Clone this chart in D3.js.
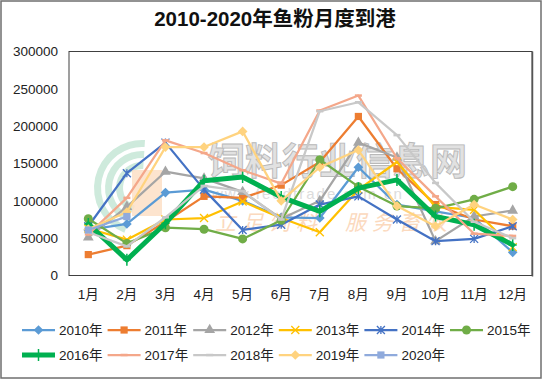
<!DOCTYPE html>
<html><head><meta charset="utf-8">
<script src="https://cdn.jsdelivr.net/npm/d3@7"></script>
<style>body{margin:0;background:#fff}svg{display:block}</style>
</head><body><svg id="c" width="550" height="380"></svg>
<script>
const months = ["1月","2月","3月","4月","5月","6月","7月","8月","9月","10月","11月","12月"];
const years = ["2010年","2011年","2012年","2013年","2014年","2015年","2016年","2017年","2018年","2019年","2020年"];
const yTicks = [0,50000,100000,150000,200000,250000,300000];
const d2010 = [61000, 69000, 111000, 115000, 100000, 78000, 77000, 145000, 95000, 86000, 77000, 31000];
const d2011 = [28000, 40000, 72000, 106000, 104000, 121000, 152000, 213000, 143000, 95000, 75000, 66000];
const d2012 = [51000, 92000, 139000, 130000, 112000, 76000, 100000, 178000, 158000, 46000, 79000, 87000];
const d2013 = [63000, 48000, 75000, 77000, 99000, 77000, 58000, 115000, 152000, 92000, 88000, 38000];
const d2014 = [66000, 137000, 178000, 115000, 61000, 68000, 95000, 106000, 75000, 46000, 49000, 66000];
const d2015 = [76000, 43000, 64000, 62000, 49000, 74000, 155000, 119000, 93000, 90000, 102000, 119000];
const d2016 = [69000, 21000, 70000, 127000, 132000, 105000, 86000, 117000, 128000, 79000, 68000, 41000];
const d2017 = [55000, 104000, 181000, 164000, 141000, 123000, 221000, 241000, 157000, 106000, 56000, 53000];
const d2018 = [58000, 39000, 78000, 120000, 113000, 75000, 220000, 232000, 188000, 124000, 72000, 50000];
const d2019 = [62000, 85000, 172000, 172000, 193000, 100000, 145000, 168000, 93000, 66000, 95000, 75000];
const d2020 = [61000, 79000];

const seriesData = [d2010,d2011,d2012,d2013,d2014,d2015,d2016,d2017,d2018,d2019,d2020];
const colors = ["#5B9BD5","#ED7D31","#A5A5A5","#FFC000","#4472C4","#70AD47","#00B050","#F4A78A","#C8C8C8","#FFD37F","#8FAADC"];
const markers = ["diamond","square","triangle","x","star","circle","plus","dash","dash","diamond","square"];
const widths = [2.25,2.25,2.25,2.25,2.25,2.25,5,2.25,2.25,2.25,2.25];

const svg = d3.select("#c");
svg.append("rect").attr("x",1).attr("y",1).attr("width",540).attr("height",377)
  .attr("fill","#fff").attr("stroke","#6f6f6f").attr("stroke-width",1.5);

const pl=69, pr=532, pt=51.5, pb=275.5;
const x = d3.scalePoint().domain(months).range([pl,pr]).padding(0.5);
const y = d3.scaleLinear().domain([0,300000]).range([pb,pt]);

// watermark
const wm = svg.append("g").attr("class","watermark");
[48,37,26].forEach((r)=>{
  const arc = d3.arc().innerRadius(r-7).outerRadius(r).startAngle(Math.PI*0.12).endAngle(Math.PI*1.02);
  wm.append("path").attr("d",arc()).attr("transform","translate(142,188) rotate(180)")
    .attr("fill","#c6e6d6").attr("opacity",0.85);
});
wm.append("rect").attr("x",132).attr("y",170).attr("width",30).attr("height",46).attr("fill","#fddfc6").attr("opacity",0.85);
wm.append("text").attr("x",208).attr("y",175).text("饲料行业信息网")
  .attr("font-family","Noto Sans CJK SC").attr("font-size",37).attr("font-weight",700)
  .attr("fill","#dadada").attr("stroke","#a8a8a8").attr("stroke-width",0.9).attr("opacity",0.8);
wm.append("text").attr("x",212).attr("y",199).text("www.feedtrade.com.cn")
  .attr("font-family","Liberation Sans").attr("font-size",15).attr("letter-spacing",2)
  .attr("fill","#d4d4d4").attr("opacity",0.8);
wm.append("text").attr("x",215).attr("y",230).text("立足饲料")
  .attr("font-family","Noto Sans CJK SC").attr("font-size",21).attr("font-style","italic").attr("letter-spacing",6)
  .attr("fill","#fbd3b3").attr("opacity",0.85);
wm.append("text").attr("x",345).attr("y",230).text("服务畜牧")
  .attr("font-family","Noto Sans CJK SC").attr("font-size",21).attr("font-style","italic").attr("letter-spacing",6)
  .attr("fill","#fbd3b3").attr("opacity",0.85);

// plot area border
svg.append("rect").attr("x",pl).attr("y",pt).attr("width",pr-pl).attr("height",pb-pt)
  .attr("fill","none").attr("stroke","#404040").attr("stroke-width",1);
svg.append("line").attr("x1",pr+0.5).attr("x2",pr+0.5).attr("y1",pt).attr("y2",pb+1).attr("stroke","#555").attr("stroke-width",1.5);

// y axis labels
svg.append("g").selectAll("text").data(yTicks).join("text")
  .attr("x",58).attr("y",d=>y(d)).attr("dy","0.35em").attr("text-anchor","end")
  .attr("font-family","Liberation Sans, Arial").attr("font-size",13.5).attr("fill","#222")
  .text(d=>d);
// x labels
svg.append("g").selectAll("text").data(months).join("text")
  .attr("x",d=>x(d)).attr("y",294).attr("dy","0.35em").attr("text-anchor","middle")
  .attr("font-family","Liberation Sans, Noto Sans CJK SC").attr("font-size",13.5).attr("fill","#222")
  .text(d=>d);

// title
svg.append("text").attr("x",275).attr("y",19).attr("dy","0.35em").attr("text-anchor","middle")
  .attr("font-family","Liberation Sans, Noto Sans CJK SC").attr("font-weight",700).attr("font-size",20.5).attr("fill","#111")
  .text("2010-2020年鱼粉月度到港");

function drawMarker(g, type, cx, cy, color){
  const s=4;
  if(type==="diamond") g.append("path").attr("d",d3.symbol(d3.symbolDiamond2,60)()).attr("transform",`translate(${cx},${cy})`).attr("fill",color);
  else if(type==="square") g.append("rect").attr("x",cx-3.6).attr("y",cy-3.6).attr("width",7.2).attr("height",7.2).attr("fill",color);
  else if(type==="triangle") g.append("path").attr("d",d3.symbol(d3.symbolTriangle,50)()).attr("transform",`translate(${cx},${cy})`).attr("fill",color);
  else if(type==="circle") g.append("circle").attr("cx",cx).attr("cy",cy).attr("r",4.5).attr("fill",color);
  else if(type==="x") g.append("path").attr("d",`M${cx-s},${cy-s}L${cx+s},${cy+s}M${cx-s},${cy+s}L${cx+s},${cy-s}`).attr("stroke",color).attr("stroke-width",1.3);
  else if(type==="star") g.append("path").attr("d",`M${cx-s},${cy-s}L${cx+s},${cy+s}M${cx-s},${cy+s}L${cx+s},${cy-s}M${cx},${cy-s}L${cx},${cy+s}`).attr("stroke",color).attr("stroke-width",1.3);
  else if(type==="plus") g.append("path").attr("d",`M${cx},${cy-6}L${cx},${cy+6}M${cx-4},${cy}L${cx+4},${cy}`).attr("stroke",color).attr("stroke-width",1.5);
  else if(type==="dash") g.append("path").attr("d",`M${cx-3.5},${cy}L${cx+3.5},${cy}`).attr("stroke",color).attr("stroke-width",2.5);
}

const line = d3.line().x((d,i)=>x(months[i])).y(d=>y(d));
const plot = svg.append("g");
seriesData.forEach((data,k)=>{
  const g = plot.append("g");
  g.append("path").attr("d",line(data)).attr("fill","none").attr("stroke",colors[k])
    .attr("stroke-width",widths[k]).attr("stroke-linejoin","round").attr("stroke-linecap","round");
  data.forEach((v,i)=>drawMarker(g, markers[k], x(months[i]), y(v), colors[k]));
});

// legend
const lg = svg.append("g");
years.forEach((name,k)=>{
  const row = k<6?0:1, col = k<6?k:k-6;
  const lx = 22 + col*85.6, ly = row===0?330:355;
  const g = lg.append("g");
  g.append("line").attr("x1",lx).attr("x2",lx+33).attr("y1",ly).attr("y2",ly).attr("stroke",colors[k]).attr("stroke-width",widths[k]);
  drawMarker(g, markers[k], lx+16.5, ly, colors[k]);
  g.append("text").attr("x",lx+37).attr("y",ly).attr("dy","0.35em")
    .attr("font-family","Liberation Sans, Noto Sans CJK SC").attr("font-size",13.5).attr("fill","#222").text(name);
});
</script></body></html>
